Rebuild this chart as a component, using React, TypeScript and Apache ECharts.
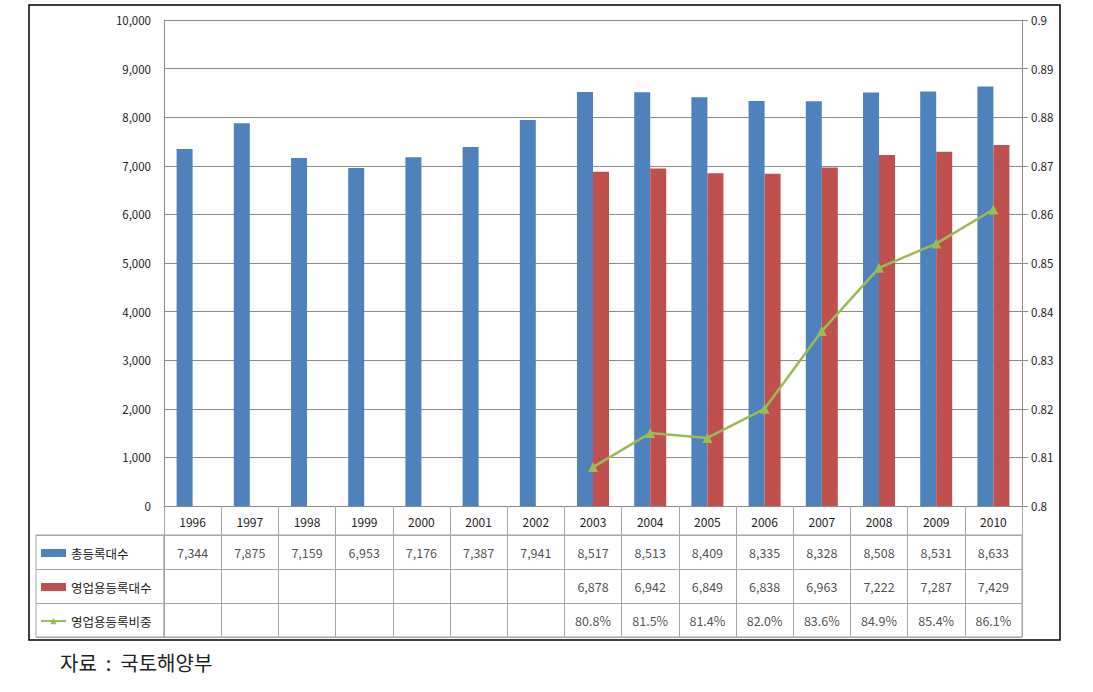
import React, { useEffect, useRef } from "react";
import * as echarts from "echarts";

const years = ["1996", "1997", "1998", "1999", "2000", "2001", "2002", "2003", "2004", "2005", "2006", "2007", "2008", "2009", "2010"];
const totalCount = [7344, 7875, 7159, 6953, 7176, 7387, 7941, 8517, 8513, 8409, 8335, 8328, 8508, 8531, 8633];
const bizCount = [null, null, null, null, null, null, null, 6878, 6942, 6849, 6838, 6963, 7222, 7287, 7429];
const bizRatio = [null, null, null, null, null, null, null, 80.8, 81.5, 81.4, 82.0, 83.6, 84.9, 85.4, 86.1];
const seriesNames = ["총등록대수", "영업용등록대수", "영업용등록비중"];
const leftTicks = { min: 0, max: 10000, interval: 1000 };
const rightTicks = { min: 0.8, max: 0.9, interval: 0.01 };
const sourceText = "자료  :  국토해양부";

const FONT = "'Noto Sans CJK KR', 'Noto Sans', sans-serif";
const BLUE = "#4f81bd";
const RED = "#c0504d";
const GREEN = "#9bbb59";
const GRID = "#8c8c8c";
const TABLE = "#a6a6a6";

export default function App() {
  const ref = useRef<HTMLDivElement>(null);
  useEffect(() => {
    if (!ref.current) return;
    const chart = echarts.init(ref.current, null, { renderer: "svg" });
    const fmt = (v: number) => v.toLocaleString("en-US");
    const cells: any[] = [];
    years.forEach((_, i) => {
      if (totalCount[i] != null) cells.push({ value: [i, 0], label: { formatter: fmt(totalCount[i] as number) } });
      if (bizCount[i] != null) cells.push({ value: [i, 1], label: { formatter: fmt(bizCount[i] as number) } });
      if (bizRatio[i] != null) cells.push({ value: [i, 2], label: { formatter: (bizRatio[i] as number).toFixed(1) + "%" } });
    });
    const rows = ["r0", "r1", "r2"];
    chart.setOption({
      animation: false,
      textStyle: { fontFamily: FONT },
      grid: [
        { left: 164, width: 858, top: 20, height: 486 },
        { left: 164, width: 858, top: 535, height: 102, show: true, borderColor: TABLE, borderWidth: 1 },
        { left: 36, width: 128, top: 535, height: 102, show: true, borderColor: TABLE, borderWidth: 1 },
      ],
      legend: {
        orient: "vertical",
        left: 40,
        top: 546,
        padding: 0,
        itemWidth: 25,
        itemHeight: 8,
        itemGap: 20,
        textStyle: { fontFamily: FONT, fontSize: 12.5, color: "#222", lineHeight: 14 },
        data: [
          { name: seriesNames[0], icon: "rect" },
          { name: seriesNames[1], icon: "rect" },
          { name: seriesNames[2] },
        ],
      },
      xAxis: [
        {
          type: "category",
          gridIndex: 0,
          data: years,
          axisLine: { lineStyle: { color: GRID } },
          axisTick: { show: true, length: 29, lineStyle: { color: TABLE } },
          axisLabel: { color: "#222", fontSize: 12, margin: 9, fontFamily: FONT },
        },
        {
          type: "category",
          gridIndex: 1,
          data: years,
          axisLine: { show: false },
          axisTick: { show: false },
          axisLabel: { show: false },
          splitLine: { show: true, lineStyle: { color: TABLE } },
        },
        {
          type: "value",
          gridIndex: 2,
          min: 0,
          max: 1,
          axisLine: { show: false },
          axisTick: { show: false },
          axisLabel: { show: false },
          splitLine: { show: false },
        },
      ],
      yAxis: [
        {
          type: "value",
          gridIndex: 0,
          ...leftTicks,
          axisLine: { show: true, lineStyle: { color: GRID } },
          axisTick: { show: false },
          splitLine: { lineStyle: { color: GRID } },
          axisLabel: { color: "#222", fontSize: 11.5, margin: 13, formatter: (v: number) => fmt(v) },
        },
        {
          type: "value",
          gridIndex: 0,
          position: "right",
          ...rightTicks,
          axisLine: { show: true, lineStyle: { color: GRID } },
          axisTick: { show: true, length: 6, lineStyle: { color: GRID } },
          splitLine: { show: false },
          axisLabel: { color: "#222", fontSize: 11.5, margin: 9, formatter: (v: number) => String(+v.toFixed(2)) },
        },
        {
          type: "category",
          gridIndex: 1,
          data: rows,
          inverse: true,
          axisLine: { show: false },
          axisTick: { show: false },
          axisLabel: { show: false },
          splitLine: { show: true, lineStyle: { color: TABLE } },
        },
        {
          type: "category",
          gridIndex: 2,
          data: rows,
          inverse: true,
          axisLine: { show: false },
          axisTick: { show: false },
          axisLabel: { show: false },
          splitLine: { show: true, lineStyle: { color: TABLE } },
        },
      ],
      series: [
        {
          name: seriesNames[0],
          type: "bar",
          xAxisIndex: 0,
          yAxisIndex: 0,
          data: totalCount,
          barWidth: 16,
          barGap: "0%",
          itemStyle: { color: BLUE },
        },
        {
          name: seriesNames[1],
          type: "bar",
          xAxisIndex: 0,
          yAxisIndex: 0,
          data: bizCount,
          barWidth: 16,
          barGap: "0%",
          itemStyle: { color: RED },
        },
        {
          name: seriesNames[2],
          type: "line",
          xAxisIndex: 0,
          yAxisIndex: 1,
          data: bizRatio.map((v) => (v == null ? null : v / 100)),
          symbol: "triangle",
          symbolSize: 10,
          lineStyle: { color: GREEN, width: 2.5 },
          itemStyle: { color: GREEN },
          z: 5,
        },
        {
          name: "table",
          type: "scatter",
          xAxisIndex: 1,
          yAxisIndex: 2,
          symbolSize: 1,
          itemStyle: { color: "rgba(0,0,0,0)" },
          label: { show: true, position: "inside", color: "#222", fontSize: 12.5, fontFamily: FONT },
          data: cells,
        },
      ],
      graphic: [
        {
          type: "rect",
          shape: { x: 1061, y: 0, width: 40, height: 692 },
          style: { fill: "#fff" },
          silent: true,
          z: 100,
        },
        {
          type: "rect",
          shape: { x: 29, y: 5, width: 1031, height: 635 },
          style: { fill: "none", stroke: "#000", lineWidth: 1.5 },
          silent: true,
          z: 101,
        },
        {
          type: "text",
          left: 60,
          top: 652,
          style: { text: sourceText, fontSize: 20, fill: "#222", fontFamily: FONT },
        },
      ],
    });
    return () => chart.dispose();
  }, []);
  return <div ref={ref} style={{ position: "fixed", left: 0, top: 0, width: 1093, height: 692, background: "#fff" }} />;
}
